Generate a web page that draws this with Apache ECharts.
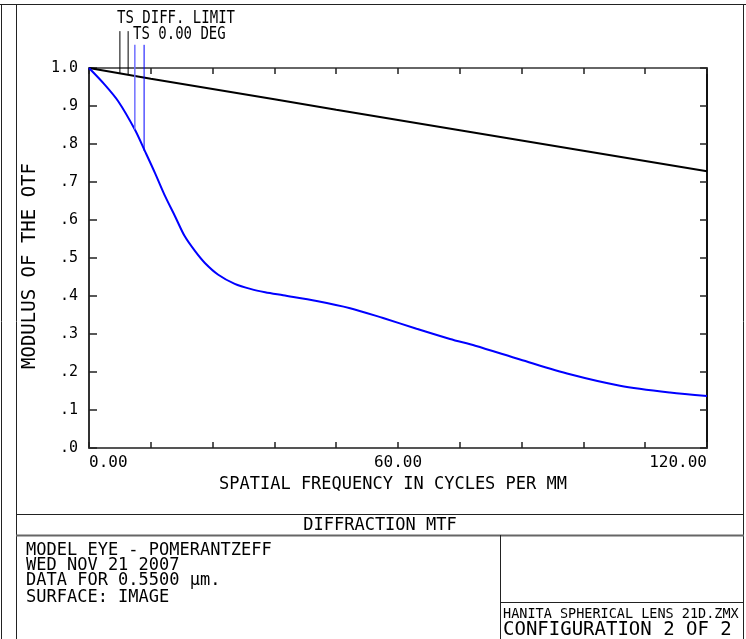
<!DOCTYPE html>
<html>
<head>
<meta charset="utf-8">
<script src="https://cdn.jsdelivr.net/npm/echarts@6/dist/echarts.min.js"></script>
<style>
html,body{margin:0;padding:0;background:#fff;}
#chart{width:746px;height:639px;}
</style>
</head>
<body>
<div id="chart"></div>
<script>
// ---- data ----
const freqDiff = [0, 12, 24, 36, 48, 60, 72, 84, 96, 108, 120];
const mtfDiff  = [1.0, 0.972, 0.945, 0.918, 0.890, 0.863, 0.836, 0.809, 0.782, 0.755, 0.728];

const freqTs = [0, 3, 5.7, 8.9, 10.9, 12.8, 14.8, 16.7, 18.6, 20.6, 22.5, 25.1, 28.3, 31.5, 34.2, 37.7, 44.2, 50.7, 57.1, 63.6, 70.1, 75, 83.7, 93.4, 103.1, 112.8, 120];
const mtfTs  = [1.0, 0.957, 0.912, 0.838, 0.780, 0.724, 0.662, 0.610, 0.557, 0.518, 0.487, 0.456, 0.432, 0.418, 0.410, 0.402, 0.387, 0.368, 0.342, 0.314, 0.287, 0.269, 0.233, 0.194, 0.164, 0.146, 0.137];

// legend marker lines (frequency, top value, bottom value)
const legendDiffX = [6.0, 7.6];
const legendDiffTop = [1.097, 1.097];
const legendDiffEnd = [0.986, 0.983];
const legendTsX = [8.9, 10.7];
const legendTsTop = [1.061, 1.061];
const legendTsEnd = [0.838, 0.782];

const legendLabels = ['TS DIFF. LIMIT', 'TS 0.00 DEG'];
const xTickLabelsAt = [0, 60, 120];
const yAxisTitle = 'MODULUS OF THE OTF';
const xAxisTitle = 'SPATIAL FREQUENCY IN CYCLES PER MM';
const plotTitle = 'DIFFRACTION MTF';
const infoLines = ['MODEL EYE - POMERANTZEFF', 'WED NOV 21 2007', 'DATA FOR 0.5500 \u00b5m.', 'SURFACE: IMAGE'];
const fileLine = 'HANITA SPHERICAL LENS 21D.ZMX';
const configLine = 'CONFIGURATION 2 OF 2';

// ---- build ----
const MONO = '"DejaVu Sans Mono", "Liberation Mono", monospace';
const chart = echarts.init(document.getElementById('chart'), null, {renderer: 'canvas'});

function pairs(xs, ys) { return xs.map((x, i) => [x, ys[i]]); }

const series = [
  {
    name: 'diff', type: 'line', data: pairs(freqDiff, mtfDiff), symbol: 'none',
    lineStyle: {color: '#000', width: 2}, z: 3, animation: false
  },
  {
    name: 'ts', type: 'line', data: pairs(freqTs, mtfTs), symbol: 'none', smooth: 0.3,
    lineStyle: {color: '#0000ff', width: 2}, z: 3, animation: false
  }
];
legendDiffX.forEach((x, i) => {
  series.push({
    type: 'line', data: [[x, legendDiffTop[i]], [x, legendDiffEnd[i]]], symbol: 'none', clip: false,
    lineStyle: {color: '#000', width: 1}, z: 4, animation: false, silent: true
  });
});
legendTsX.forEach((x, i) => {
  series.push({
    type: 'line', data: [[x, legendTsTop[i]], [x, legendTsEnd[i]]], symbol: 'none', clip: false,
    lineStyle: {color: i === 0 ? '#7070ff' : '#0000ff', width: i === 0 ? 1.5 : 1}, z: 4, animation: false, silent: true
  });
});

const L = (x1, y1, x2, y2, color, w) => ({
  type: 'line', shape: {x1, y1, x2, y2}, style: {stroke: color || '#222', lineWidth: w || 1}, silent: true
});
const T = (x, y, text, size, align, sy) => ({
  type: 'text', x, y, silent: true, scaleY: sy || 1,
  style: {text, font: size + 'px ' + MONO, fill: '#000', align: align || 'left', verticalAlign: 'top'}
});

const graphics = [
  L(0, 4.5, 746, 4.5),
  L(1.5, 4, 1.5, 639),
  L(16.5, 4, 16.5, 639),
  L(743.5, 4, 743.5, 639),
  L(16, 514.5, 744, 514.5),
  L(16, 535.5, 744, 535.5, '#666', 2),
  L(500.5, 535, 500.5, 639),
  L(500, 602.5, 744, 602.5),
  T(117, 10, legendLabels[0], 14, 'left', 1.2),
  T(133, 26, legendLabels[1], 14, 'left', 1.2),
  T(380, 517, plotTitle, 17, 'center'),
  T(26, 542, infoLines[0], 17),
  T(26, 557, infoLines[1], 17),
  T(26, 572, infoLines[2], 17),
  T(26, 589, infoLines[3], 17),
  T(503, 607, fileLine, 13.5),
  T(503, 621, configLine, 19)
];

const option = {
  backgroundColor: '#fff',
  animation: false,
  grid: {left: 89, top: 68, width: 618, height: 380, containLabel: false},
  xAxis: [
    {
      type: 'value', min: 0, max: 120, interval: 12, position: 'bottom',
      name: xAxisTitle, nameLocation: 'middle', nameGap: 28,
      nameTextStyle: {fontFamily: MONO, fontSize: 17, color: '#000', padding: [0, 10, 0, 0]},
      axisLine: {show: true, onZero: false, lineStyle: {color: '#555', width: 2}},
      axisTick: {show: true, inside: true, length: 6, lineStyle: {color: '#222', width: 1.5}},
      axisLabel: {
        show: true, margin: 7, fontFamily: MONO, fontSize: 16, color: '#000',
        alignMinLabel: 'left', alignMaxLabel: 'right',
        formatter: v => xTickLabelsAt.indexOf(v) >= 0 ? v.toFixed(2) : ''
      },
      splitLine: {show: false}
    },
    {
      type: 'value', min: 0, max: 120, interval: 12, position: 'top',
      axisLine: {show: true, onZero: false, lineStyle: {color: '#666', width: 2}},
      axisTick: {show: true, inside: true, length: 6, lineStyle: {color: '#222', width: 1.5}},
      axisLabel: {show: false}, splitLine: {show: false}
    }
  ],
  yAxis: [
    {
      type: 'value', min: 0, max: 1, interval: 0.1, position: 'left',
      name: yAxisTitle, nameLocation: 'middle', nameGap: 47, nameRotate: 90,
      nameTextStyle: {fontFamily: MONO, fontSize: 19, color: '#000', padding: [0, 16, 0, 0]},
      axisLine: {show: true, onZero: false, lineStyle: {color: '#333', width: 2}},
      axisTick: {show: true, inside: true, length: 8, lineStyle: {color: '#222', width: 1.5}},
      axisLabel: {
        show: true, margin: 11, fontFamily: MONO, fontSize: 15, color: '#000',
        formatter: v => v >= 0.999 ? '1.0' : '.' + Math.round(v * 10)
      },
      splitLine: {show: false}
    },
    {
      type: 'value', min: 0, max: 1, interval: 0.1, position: 'right',
      axisLine: {show: true, onZero: false, lineStyle: {color: '#111', width: 2}},
      axisTick: {show: true, inside: true, length: 7, lineStyle: {color: '#222', width: 1.5}},
      axisLabel: {show: false}, splitLine: {show: false}
    }
  ],
  series: series,
  graphic: graphics
};
chart.setOption(option);
</script>
</body>
</html>
